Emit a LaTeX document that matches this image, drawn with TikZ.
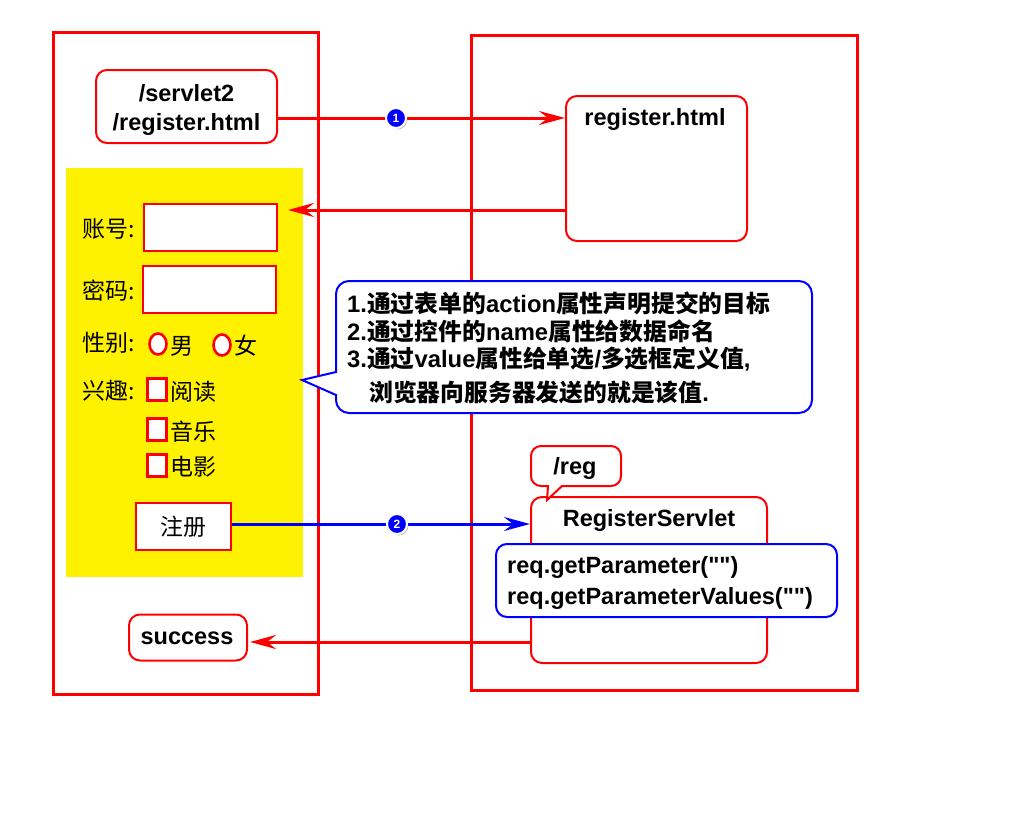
\documentclass[tikz,border=0pt]{standalone}
\usepackage{fontspec}
\setmainfont{Liberation Sans}
\newfontfamily\cjk{Noto Sans CJK SC}
\usetikzlibrary{arrows.meta,shadows,calc,shapes.geometric}
\newcommand{\zh}[1]{{\cjk #1}}
\newcommand{\dq}{\textquotedbl}
\begin{document}
\begin{tikzpicture}[x=1pt,y=-1pt,
  bigbox/.style={draw=red,line width=3pt},
  rbox/.style={draw=red,line width=2pt,fill=white,rounded corners=11pt,inner sep=0pt},
  bbox/.style={draw=blue,line width=2pt,fill=white,rounded corners=11pt,inner sep=0pt},
  ibox/.style={draw=red,line width=2.6pt,fill=white,inner sep=0pt},
  entxt/.style={font=\bfseries\fontsize{23.5}{29}\selectfont,inner sep=0pt},
  zhtxt/.style={font=\cjk\fontsize{23}{28}\selectfont,inner sep=0pt},
  notetxt/.style={font=\bfseries\fontsize{23.8}{28}\selectfont,inner sep=0pt,anchor=west},
  radio/.style={draw=red,line width=2.6pt,fill=white,ellipse,minimum width=17pt,minimum height=21pt,inner sep=0pt},
  redarrow/.style={draw=red,line width=3pt,-{Stealth[length=26pt,width=14pt,inset=9pt]}},
  bluearrow/.style={draw=blue,line width=3pt,-{Stealth[length=26pt,width=14pt,inset=9pt]}},
  badge/.style={circle,fill=blue,draw=white,line width=2pt,inner sep=0pt,minimum size=20pt,
    text=white,font=\bfseries\fontsize{12}{12}\selectfont,
    drop shadow={shadow xshift=1.5pt,shadow yshift=-1.5pt,opacity=0.45}}
]
\useasboundingbox (0,0) rectangle (1024,816);
\fill[white] (0,0) rectangle (1024,816);

% big frames
\draw[bigbox] (53,33) rectangle (318,694);
\draw[bigbox] (471,36) rectangle (857,690);

% yellow form area
\fill[yellow] (66,168) rectangle (303,577);

% top-left request node
\node[rbox,minimum width=181pt,minimum height=73pt] (req) at (186.5,106.5) {};
\node[entxt,align=center] (reqtxt) at (186.5,109.5) {/servlet2\\/register.html};

% register.html node
\node[rbox,minimum width=181pt,minimum height=145pt] (rh) at (656.5,168.5) {};
\node[entxt] (rhtxt) at (655,119) {register.html};

% form fields
\node[zhtxt,anchor=west] (lacc) at (82,229) {账号:};
\node[ibox,minimum width=133pt,minimum height=47pt] (acc) at (210.5,227.5) {};
\node[zhtxt,anchor=west] (lpwd) at (82,291) {密码:};
\node[ibox,minimum width=133pt,minimum height=47pt] (pwd) at (209.5,289.5) {};
\node[zhtxt,anchor=west] (lsex) at (82,343) {性别:};
\node[radio] (r1) at (158,344) {};
\node[zhtxt,anchor=west] (male) at (170,346) {男};
\node[radio] (r2) at (222,345) {};
\node[zhtxt,anchor=west] (female) at (234,346) {女};
\node[zhtxt,anchor=west] (lhob) at (82,391) {兴趣:};
\node[ibox,minimum width=19pt,minimum height=22pt] (cb1) at (157,389.5) {};
\node[zhtxt,anchor=west] (h1) at (170,392) {阅读};
\node[ibox,minimum width=19pt,minimum height=22pt] (cb2) at (157,429.5) {};
\node[zhtxt,anchor=west] (h2) at (170,432) {音乐};
\node[ibox,minimum width=19pt,minimum height=22pt] (cb3) at (157,465.5) {};
\node[zhtxt,anchor=west] (h3) at (170,467) {电影};
\node[ibox,line width=2.2pt,minimum width=95pt,minimum height=47pt,zhtxt] (btn) at (183.5,526.5) {注册};

% servlet node
\node[rbox,minimum width=236pt,minimum height=166pt] (srv) at (649,580) {};
\node[entxt] (srvtxt) at (649,520) {RegisterServlet};
\node[bbox,minimum width=341pt,minimum height=73pt] (code) at (666.5,580.5) {};
\node[entxt,anchor=west] (code1) at (507,567) {req.getParameter(\dq\dq)};
\node[entxt,anchor=west] (code2) at (507,598) {req.getParameterValues(\dq\dq)};

% /reg callout
\draw[draw=red,line width=2pt,fill=white]
  (547,500) -- (548,486) [rounded corners=10pt] -- (531,486) -- (531,446) -- (621,446) -- (621,486) [sharp corners] -- (562,486) -- cycle;
\node[entxt] (regtxt) at (575,468) {/reg};

% success node
\node[rbox,minimum width=118pt,minimum height=46pt] (succ) at (188,637.5) {};
\node[entxt] (succtxt) at (187,638) {success};

% note callout
\draw[draw=blue,line width=2pt,fill=white]
  (302,380) -- (336,372) [rounded corners=13pt] -- (336,281) -- (812,281) -- (812,413) -- (336,413) [sharp corners] -- (336,395) -- cycle;
\node[notetxt] (c1) at (347,303) {1.\zh{通过表单的}action\zh{属性声明提交的目标}};
\node[notetxt] (c2) at (347,331) {2.\zh{通过控件的}name\zh{属性给数据命名}};
\node[notetxt] (c3) at (347,359) {3.\zh{通过}value\zh{属性给单选}/\zh{多选框定义值},};
\node[notetxt] (c4) at (369,392) {\zh{浏览器向服务器发送的就是该值}.};

% connectors
\coordinate (l1) at (396,118);
\coordinate (l2) at (397,524);
\coordinate (l3) at (400,642);
\coordinate (back) at (288,210);
\draw[redarrow] (req.east |- l1) -- (rh.west |- l1);
\draw[redarrow] (rh.west |- back) -- (back);
\draw[bluearrow] (btn.east |- l2) -- (srv.west |- l2);
\draw[redarrow] (srv.west |- l3) -- ([xshift=2pt]succ.east |- l3);

% badges
\node[badge] (b1) at (l1) {1};
\node[badge] (b2) at (l2) {2};
\end{tikzpicture}
\end{document}
